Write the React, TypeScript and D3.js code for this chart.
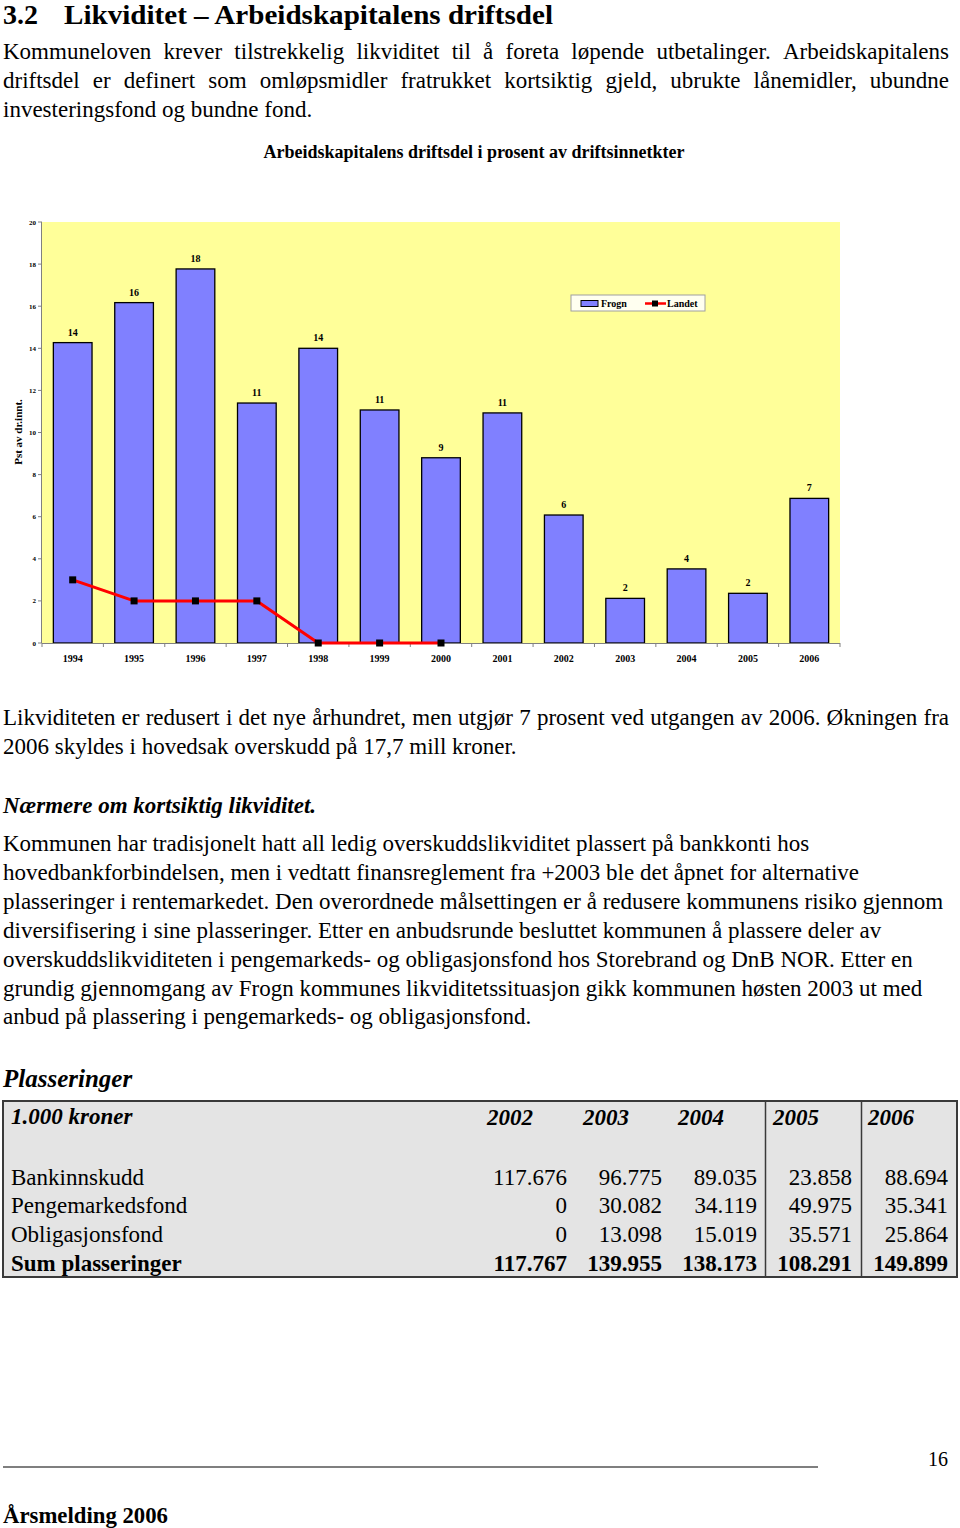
import React from 'react';
import * as d3 from 'd3';

// ---------- Chart data ----------
const years = ['1994', '1995', '1996', '1997', '1998', '1999', '2000', '2001', '2002', '2003', '2004', '2005', '2006'];
const frogn = [14.27, 16.17, 17.77, 11.4, 14.0, 11.07, 8.8, 10.93, 6.08, 2.12, 3.52, 2.36, 6.87];
const frognLabels = ['14', '16', '18', '11', '14', '11', '9', '11', '6', '2', '4', '2', '7'];
const landetYears = ['1994', '1995', '1996', '1997', '1998', '1999', '2000'];
const landet = [3, 2, 2, 2, 0, 0, 0];
const yTicks = [0, 2, 4, 6, 8, 10, 12, 14, 16, 18, 20];

// ---------- Table data ----------
const tableYears = ['2002', '2003', '2004', '2005', '2006'];
const rowLabels = ['Bankinnskudd', 'Pengemarkedsfond', 'Obligasjonsfond'];
const bank = ['117.676', '96.775', '89.035', '23.858', '88.694'];
const penge = ['0', '30.082', '34.119', '49.975', '35.341'];
const oblig = ['0', '13.098', '15.019', '35.571', '25.864'];
const sumRow = ['117.767', '139.955', '138.173', '108.291', '149.899'];

// ---------- Text ----------
const heading = '3.2';
const headingTitle = 'Likviditet – Arbeidskapitalens driftsdel';
const para1 = [
  'Kommuneloven krever tilstrekkelig likviditet til å foreta løpende utbetalinger. Arbeidskapitalens',
  'driftsdel er definert som omløpsmidler fratrukket kortsiktig gjeld, ubrukte lånemidler, ubundne',
  'investeringsfond og bundne fond.',
];
const para2 = [
  'Likviditeten er redusert i det nye århundret, men utgjør 7 prosent ved utgangen av 2006. Økningen fra',
  '2006 skyldes i hovedsak overskudd på 17,7 mill kroner.',
];
const subHeading = 'Nærmere om kortsiktig likviditet.';
const para3 = [
  'Kommunen har tradisjonelt hatt all ledig overskuddslikviditet plassert på bankkonti hos',
  'hovedbankforbindelsen, men i vedtatt finansreglement fra +2003 ble det åpnet for alternative',
  'plasseringer i rentemarkedet. Den overordnede målsettingen er å redusere kommunens risiko gjennom',
  'diversifisering i sine plasseringer. Etter en anbudsrunde besluttet kommunen å plassere deler av',
  'overskuddslikviditeten i pengemarkeds- og obligasjonsfond hos Storebrand og DnB NOR. Etter en',
  'grundig gjennomgang av Frogn kommunes likviditetssituasjon gikk kommunen høsten 2003 ut med',
  'anbud på plassering i pengemarkeds- og obligasjonsfond.',
];

const SERIF = "'Liberation Serif', 'Times New Roman', serif";

let ctx: CanvasRenderingContext2D | null = null;
function measure(text: string, font: string): number {
  if (!ctx) {
    const c = document.createElement('canvas');
    ctx = c.getContext('2d');
  }
  if (!ctx) return text.length * 10;
  ctx.font = font;
  return ctx.measureText(text).width;
}

function JustifiedLine({ text, x0, x1, y, size }: { text: string; x0: number; x1: number; y: number; size: number }) {
  const words = text.split(' ');
  const font = `${size}px ${SERIF}`;
  const widths = words.map((w) => measure(w, font));
  const total = widths.reduce((a, b) => a + b, 0);
  const gap = (x1 - x0 - total) / (words.length - 1);
  let x = x0;
  const xs = widths.map((w) => {
    const cur = x;
    x += w + gap;
    return cur;
  });
  return (
    <text y={y} fontSize={size} fontFamily={SERIF} fill="#000">
      {words.map((w, i) => (
        <tspan key={i} x={xs[i]}>{w}</tspan>
      ))}
    </text>
  );
}

function Chart() {
  const left = 42;
  const right = 840;
  const top = 222;
  const bottom = 643;
  const x = d3.scaleBand<string>().domain(years).range([left, right]).padding(0);
  const y = d3.scaleLinear().domain([0, 20]).range([bottom, top]);
  const bw = x.bandwidth() * 0.63;
  const cx = (yr: string) => (x(yr) as number) + x.bandwidth() / 2;
  const line = d3
    .line<number>()
    .x((_, i) => cx(landetYears[i]))
    .y((d) => y(d));
  const axisColor = '#808080';

  return (
    <g>
      <text x={474} y={158} textAnchor="middle" fontSize={18} fontWeight="bold" fontFamily={SERIF}>
        Arbeidskapitalens driftsdel i prosent av driftsinnetkter
      </text>
      <rect x={left} y={top} width={right - left} height={bottom - top} fill="#FFFF99" />
      {/* y axis */}
      <line x1={left - 0.5} x2={left - 0.5} y1={top} y2={bottom} stroke={axisColor} strokeWidth={1} />
      {yTicks.map((t) => (
        <g key={t}>
          <line x1={left - 4} x2={left} y1={y(t)} y2={y(t)} stroke={axisColor} />
          <text x={36} y={y(t) + 2.5} textAnchor="end" fontSize={7} fontWeight="bold" fontFamily={SERIF}>
            {t}
          </text>
        </g>
      ))}
      <text
        transform={`translate(22,432) rotate(-90)`}
        textAnchor="middle"
        fontSize={11}
        fontWeight="bold"
        fontFamily={SERIF}
      >
        Pst av dr.innt.
      </text>
      {/* bars */}
      {years.map((yr, i) => (
        <g key={yr}>
          <rect
            x={cx(yr) - bw / 2}
            y={y(frogn[i])}
            width={bw}
            height={bottom - y(frogn[i])}
            fill="#8080FF"
            stroke="#000"
            strokeWidth={1.3}
          />
          <text x={cx(yr)} y={y(frogn[i]) - 7} textAnchor="middle" fontSize={10} fontWeight="bold" fontFamily={SERIF}>
            {frognLabels[i]}
          </text>
        </g>
      ))}
      {/* x axis */}
      <line x1={left} x2={right} y1={bottom + 0.5} y2={bottom + 0.5} stroke={axisColor} strokeWidth={1} />
      {years.map((yr) => (
        <line key={yr} x1={x(yr) as number} x2={x(yr) as number} y1={bottom} y2={bottom + 4} stroke={axisColor} />
      ))}
      <line x1={right} x2={right} y1={bottom} y2={bottom + 4} stroke={axisColor} />
      {years.map((yr) => (
        <text key={yr} x={cx(yr)} y={662} textAnchor="middle" fontSize={10} fontWeight="bold" fontFamily={SERIF}>
          {yr}
        </text>
      ))}
      {/* landet line */}
      <path d={line(landet) || ''} fill="none" stroke="#FF0000" strokeWidth={3} strokeLinejoin="round" />
      {landet.map((v, i) => (
        <rect key={i} x={cx(landetYears[i]) - 3.5} y={y(v) - 3.5} width={7} height={7} fill="#000" />
      ))}
      {/* legend */}
      <rect x={571} y={295} width={134} height={16} fill="#FFFFF0" stroke="#A0A0A0" strokeWidth={1} />
      <rect x={581} y={300.5} width={17} height={6} fill="#8080FF" stroke="#000" strokeWidth={1} />
      <text x={601} y={307} fontSize={10} fontWeight="bold" fontFamily={SERIF}>
        Frogn
      </text>
      <line x1={645} x2={666} y1={303.5} y2={303.5} stroke="#FF0000" strokeWidth={2.5} />
      <rect x={652} y={300.5} width={6} height={6} fill="#000" />
      <text x={667} y={307} fontSize={10} fontWeight="bold" fontFamily={SERIF}>
        Landet
      </text>
    </g>
  );
}

function Table() {
  const top = 1101;
  const bottom = 1277;
  const yearX = [487, 583, 678, 773, 868];
  const valRight = [567, 662, 757, 852, 948];
  const rowY = [1185, 1213, 1242];
  const rows = [bank, penge, oblig];
  const size = 23;
  return (
    <g fontFamily={SERIF} fontSize={size}>
      <rect x={3} y={top} width={954} height={bottom - top} fill="#E4E4E4" stroke="#3a3a3a" strokeWidth={2} />
      <line x1={765.5} x2={765.5} y1={top} y2={bottom} stroke="#3a3a3a" strokeWidth={1.5} />
      <line x1={861.5} x2={861.5} y1={top} y2={bottom} stroke="#3a3a3a" strokeWidth={1.5} />
      <text x={11} y={1124} fontWeight="bold" fontStyle="italic">
        1.000 kroner
      </text>
      {tableYears.map((yr, i) => (
        <text key={yr} x={yearX[i]} y={1125} fontWeight="bold" fontStyle="italic">
          {yr}
        </text>
      ))}
      {rowLabels.map((lbl, r) => (
        <g key={lbl}>
          <text x={11} y={rowY[r]}>
            {lbl}
          </text>
          {rows[r].map((v, i) => (
            <text key={i} x={valRight[i]} y={rowY[r]} textAnchor="end">
              {v}
            </text>
          ))}
        </g>
      ))}
      <text x={11} y={1271} fontWeight="bold">
        Sum plasseringer
      </text>
      {sumRow.map((v, i) => (
        <text key={i} x={valRight[i]} y={1271} textAnchor="end" fontWeight="bold">
          {v}
        </text>
      ))}
    </g>
  );
}

export default function App() {
  const body = 23;
  return (
    <svg
      width={960}
      height={1528}
      style={{ position: 'absolute', left: 0, top: 0, background: '#fff' }}
      xmlns="http://www.w3.org/2000/svg"
    >
      <rect x={0} y={0} width={960} height={1528} fill="#fff" />
      <text x={3} y={24} fontSize={28} fontWeight="bold" fontFamily={SERIF}>
        {heading}
      </text>
      <text x={64} y={24} fontSize={28} fontWeight="bold" fontFamily={SERIF} textLength={489} lengthAdjust="spacingAndGlyphs">
        {headingTitle}
      </text>
      <JustifiedLine text={para1[0]} x0={3} x1={949} y={59} size={body} />
      <JustifiedLine text={para1[1]} x0={3} x1={949} y={88} size={body} />
      <text x={3} y={117} fontSize={body} fontFamily={SERIF}>
        {para1[2]}
      </text>

      <Chart />

      <JustifiedLine text={para2[0]} x0={3} x1={949} y={725} size={body} />
      <text x={3} y={754} fontSize={body} fontFamily={SERIF}>
        {para2[1]}
      </text>

      <text x={3} y={813} fontSize={body} fontWeight="bold" fontStyle="italic" fontFamily={SERIF}>
        {subHeading}
      </text>
      {para3.map((l, i) => (
        <text key={i} x={3} y={851 + i * 28.9} fontSize={body} fontFamily={SERIF}>
          {l}
        </text>
      ))}

      <text x={3} y={1087} fontSize={25} fontWeight="bold" fontStyle="italic" fontFamily={SERIF}>
        Plasseringer
      </text>
      <Table />

      <line x1={3} x2={818} y1={1467} y2={1467} stroke="#000" strokeWidth={1.2} />
      <text x={948} y={1466} textAnchor="end" fontSize={22} fontFamily={SERIF} textLength={20} lengthAdjust="spacingAndGlyphs">
        16
      </text>
      <text x={3} y={1523} fontSize={23} fontWeight="bold" fontFamily={SERIF} textLength={165} lengthAdjust="spacingAndGlyphs">
        Årsmelding 2006
      </text>
    </svg>
  );
}
